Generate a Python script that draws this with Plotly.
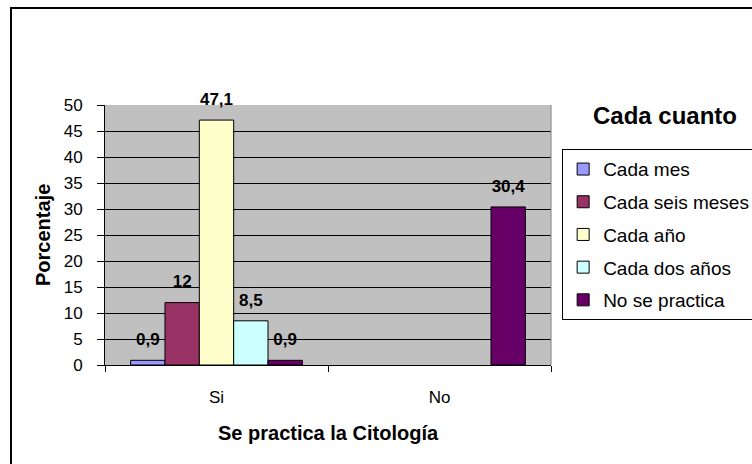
import plotly.graph_objects as go

categorias = ["Si", "No"]
series = ["Cada mes", "Cada seis meses", "Cada año", "Cada dos años", "No se practica"]
cada_mes = [0.9, None]
cada_seis_meses = [12, None]
cada_anio = [47.1, None]
cada_dos_anios = [8.5, None]
no_se_practica = [0.9, 30.4]
colores = ["#9999FF", "#993366", "#FFFFCC", "#CCFFFF", "#660066"]

valores = [cada_mes, cada_seis_meses, cada_anio, cada_dos_anios, no_se_practica]
fuente = "Arial, 'Liberation Sans', sans-serif"


def etiqueta(v):
    if v is None:
        return ""
    return f"{v:g}".replace(".", ",")


fig = go.Figure()
for i, (nombre, ys, color) in enumerate(zip(series, valores, colores)):
    fig.add_trace(go.Bar(
        x=categorias, y=ys, name=nombre,
        marker=dict(color=color, line=dict(color="black", width=1)),
        offsetgroup=str(i), legendgroup=str(i),
        hoverinfo="skip",
    ))
# etiquetas de valor, un poco por encima de cada barra
for i, ys in enumerate(valores):
    fig.add_trace(go.Scatter(
        x=categorias, y=ys, mode="markers+text",
        text=[etiqueta(v) for v in ys], textposition="top center",
        textfont=dict(family=fuente, size=17, color="black", weight="bold"),
        marker=dict(size=16, opacity=0),
        offsetgroup=str(i), showlegend=False, hoverinfo="skip",
        cliponaxis=False,
    ))

fig.update_layout(
    width=752, height=464,
    margin=dict(l=105, r=201, t=105, b=99, autoexpand=False),
    paper_bgcolor="white", plot_bgcolor="#C0C0C0",
    barmode="group", bargap=0.23, bargroupgap=0,
    scattermode="group", scattergap=0.23,
    font=dict(family=fuente, color="black", size=17),
    showlegend=True,
    legend=dict(
        x=1.025, y=0.83, xanchor="left", yanchor="top",
        bgcolor="white", bordercolor="black", borderwidth=1,
        font=dict(family=fuente, size=19, color="black"),
        tracegroupgap=5, itemclick=False, entrywidth=190,
    ),
)
fig.update_xaxes(
    showline=True, linecolor="black", linewidth=1,
    ticks="outside", tickson="boundaries", ticklen=6, tickcolor="black",
    ticklabelstandoff=17, showgrid=False,
)
fig.update_yaxes(
    range=[0, 50], dtick=5, showline=True, linecolor="black", linewidth=1,
    ticks="outside", ticklen=7, tickcolor="black", ticklabelstandoff=11,
    showgrid=True, gridcolor="black", gridwidth=1, zeroline=False,
)

fig.add_shape(type="line", xref="paper", yref="paper", x0=1, x1=1, y0=0, y1=1,
              line=dict(color="#808080", width=1))
fig.add_shape(type="rect", xref="paper", yref="paper",
              x0=-0.2108, x1=1.6, y0=-0.6, y1=1.373,
              line=dict(color="black", width=2))

fig.add_annotation(text="<b>Cada cuanto</b>", xref="paper", yref="paper",
                   x=1.256, y=0.9615, xanchor="center", yanchor="middle",
                   showarrow=False,
                   font=dict(family=fuente, size=24, color="black"))
fig.add_annotation(text="<b>Se practica la Citología</b>", xref="paper", yref="paper",
                   x=0.5, y=-0.2615, xanchor="center", yanchor="middle",
                   showarrow=False,
                   font=dict(family=fuente, size=20, color="black"))
fig.add_annotation(text="<b>Porcentaje</b>", xref="paper", yref="paper",
                   x=-0.139, y=0.5, xanchor="center", yanchor="middle",
                   showarrow=False, textangle=-90,
                   font=dict(family=fuente, size=20, color="black"))

fig.write_html("out.html", config={"displayModeBar": False},
               post_script="document.body.style.margin = '0';")
